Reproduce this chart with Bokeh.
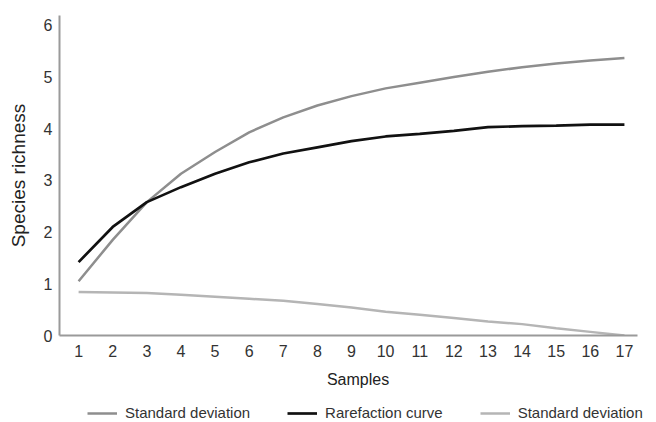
from bokeh.plotting import figure
from bokeh.layouts import column
from bokeh.models import FixedTicker, Legend, LegendItem, Range1d
from bokeh.embed import file_html
from bokeh.resources import INLINE

samples = list(range(1, 18))
rarefaction = [1.42, 2.10, 2.58, 2.87, 3.13, 3.35, 3.52, 3.64, 3.76, 3.85, 3.90, 3.96,
               4.03, 4.05, 4.06, 4.08, 4.08]
sd_upper = [1.05, 1.85, 2.58, 3.13, 3.55, 3.93, 4.22, 4.45, 4.63, 4.78, 4.89, 5.00,
            5.10, 5.19, 5.26, 5.32, 5.37]
sd_lower = [0.84, 0.83, 0.82, 0.79, 0.75, 0.71, 0.67, 0.61, 0.54, 0.46, 0.40, 0.34,
            0.27, 0.22, 0.14, 0.07, 0.00]
x_ticks = samples
y_ticks = [0, 1, 2, 3, 4, 5, 6]
legend_labels = ["Standard deviation", "Rarefaction curve", "Standard deviation"]

FONT = "Liberation Sans"
COL_UPPER = "#8e8e8e"
COL_RARE = "#111111"
COL_LOWER = "#b5b5b5"

X_START, X_AXIS_END, X_END = 0.44, 17.38, 17.94

p = figure(width=656, height=394, output_backend="svg", toolbar_location=None,
           x_range=Range1d(X_START, X_END), y_range=Range1d(0, 6.19),
           min_border_left=59, min_border_right=0, min_border_top=15,
           min_border_bottom=59)
p.xgrid.visible = False
p.ygrid.visible = False
p.outline_line_color = None

for ax in (p.xaxis[0], p.yaxis[0]):
    ax.axis_line_color = "#9a9a9a"
    ax.axis_line_width = 2
    ax.major_tick_line_color = None
    ax.minor_tick_line_color = None
    ax.major_tick_out = 0
    ax.major_tick_in = 0
    ax.minor_tick_out = 0
    ax.minor_tick_in = 0
    ax.major_label_text_font = FONT
    ax.major_label_text_font_size = "16px"
    ax.major_label_text_color = "#333333"
    ax.axis_label_text_font = FONT
    ax.axis_label_text_font_style = "normal"
    ax.axis_label_text_color = "#222222"

p.xaxis.bounds = (X_START, X_AXIS_END)
p.xaxis.ticker = FixedTicker(ticks=x_ticks)
p.yaxis.ticker = FixedTicker(ticks=y_ticks)
p.xaxis.major_label_standoff = 9
p.yaxis.major_label_standoff = 7
p.xaxis.axis_label = "Samples"
p.xaxis.axis_label_text_font_size = "16px"
p.xaxis.axis_label_standoff = 11
p.yaxis.axis_label = "Species richness"
p.yaxis.axis_label_text_font_size = "19px"
p.yaxis.axis_label_standoff = 12

p.line(samples, sd_lower, line_color=COL_LOWER, line_width=2.5)
p.line(samples, sd_upper, line_color=COL_UPPER, line_width=2.5)
p.line(samples, rarefaction, line_color=COL_RARE, line_width=2.7)

# legend strip below the chart (its lines lie outside its own ranges)
lg = figure(width=656, height=28, output_backend="svg", toolbar_location=None,
            x_axis_type=None, y_axis_type=None,
            x_range=Range1d(-20, -19), y_range=Range1d(-20, -19),
            min_border_left=59, min_border_right=0, min_border_top=0,
            min_border_bottom=0)
lg.outline_line_color = None
lg.xgrid.visible = False
lg.ygrid.visible = False
d_upper = lg.line(samples, sd_upper, line_color=COL_UPPER, line_width=2.5)
d_rare = lg.line(samples, rarefaction, line_color=COL_RARE, line_width=2.7)
d_lower = lg.line(samples, sd_lower, line_color=COL_LOWER, line_width=2.5)

items = [LegendItem(label=lab, renderers=[rend])
         for lab, rend in zip(legend_labels, [d_upper, d_rare, d_lower])]
leg = Legend(items=items, location=(28, 1), orientation="horizontal",
             border_line_color=None, background_fill_alpha=0,
             padding=0, margin=0, spacing=37,
             glyph_width=30, glyph_height=16, label_height=16,
             label_standoff=8, label_text_font=FONT,
             label_text_font_size="15px", label_text_color="#333333")
lg.add_layout(leg)

layout = column(p, lg, spacing=0)
open("out.html", "w").write(file_html(layout, INLINE))
